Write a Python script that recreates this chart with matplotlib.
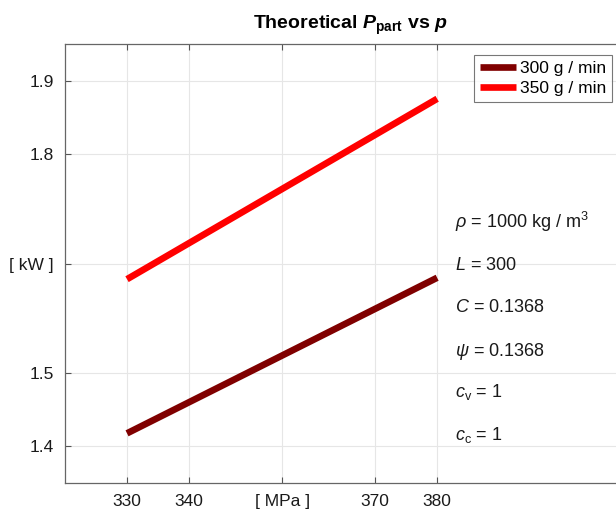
import matplotlib
matplotlib.use('Agg')
import matplotlib.pyplot as plt

plt.rcParams['font.family'] = 'Liberation Sans'
plt.rcParams['mathtext.fontset'] = 'custom'
plt.rcParams['mathtext.rm'] = 'Liberation Sans'
plt.rcParams['mathtext.it'] = 'Liberation Sans:italic'
plt.rcParams['mathtext.bf'] = 'Liberation Sans:bold:italic'
plt.rcParams['mathtext.sf'] = 'Liberation Sans:bold'

# data
pressure = [330, 380]
power300 = [1.418, 1.631]
power350 = [1.629, 1.876]
seriesLabels = ['300 g / min', '350 g / min']
xTicks = [330, 340, 355, 370, 380]
xTickLabels = ['330', '340', '[ MPa ]', '370', '380']
yTicks = [1.4, 1.5, 1.65, 1.8, 1.9]
yTickLabels = ['1.4', '1.5', '[ kW ]', '1.8', '1.9']
paramText = [r'$\rho$ = 1000 kg / m$^3$', r'$L$ = 300', r'$C$ = 0.1368',
             r'$\psi$ = 0.1368', r'$c_\mathrm{v}$ = 1', r'$c_\mathrm{c}$ = 1']

fig = plt.figure(figsize=(6.16, 5.11), dpi=100)
ax = fig.add_axes([65/616, 28/511, 570/616, 439/511])

ax.plot(pressure, power300, color='#800000', lw=4.8, solid_capstyle='butt', label=seriesLabels[0])
ax.plot(pressure, power350, color='#ff0000', lw=4.8, solid_capstyle='butt', label=seriesLabels[1])

ax.set_xlim(320, 411.9)
ax.set_ylim(1.35, 1.951)
ax.set_xticks(xTicks)
ax.set_xticklabels(xTickLabels)
ax.set_yticks(yTicks)
ax.set_yticklabels(yTickLabels)
ax.tick_params(direction='in', length=4, labelsize=12.5, color='#555555', labelcolor='#1a1a1a', pad=8)
ax.tick_params(top=True, right=True)
ax.grid(True, color='#e6e6e6', lw=0.8)
ax.set_axisbelow(True)
for s in ax.spines.values():
    s.set_color('#666666')
    s.set_linewidth(0.9)

ax.set_title(r'Theoretical $\mathbf{P}_{\mathsf{part}}$ vs $\mathbf{p}$', fontsize=14, fontweight='bold', pad=11)

leg = fig.legend(loc='upper right', bbox_to_anchor=(612/616, 1-55/511), fontsize=12.5,
                 frameon=True, fancybox=False, edgecolor='#555555', handlelength=2.1,
                 handletextpad=0.2, borderpad=0.35, labelspacing=0.25, borderaxespad=0)
leg.get_frame().set_linewidth(0.8)

yPos = [222, 265, 308, 352, 392, 435]
for t, yp in zip(paramText, yPos):
    fig.text(455/616, 1-yp/511, t, fontsize=13, ha='left', va='center', color='#1a1a1a')

fig.savefig('out.png', dpi=100)
